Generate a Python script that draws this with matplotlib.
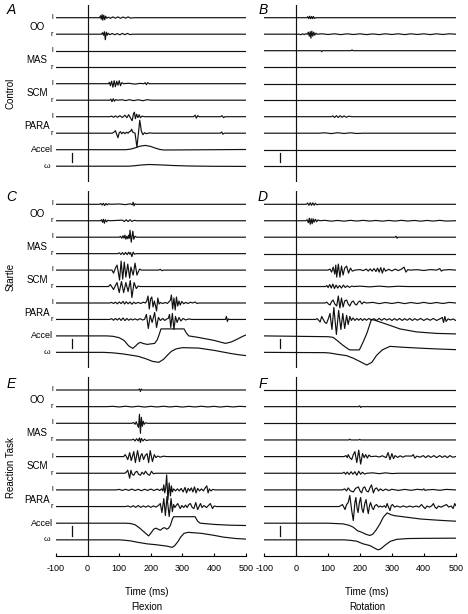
import matplotlib.pyplot as plt

plt.rcParams['font.family'] = ['Liberation Sans', 'DejaVu Sans']
plt.rcParams['axes.unicode_minus'] = False

# ---- traces: (time ms, amplitude) pairs ----
flat = [(-100, 0), (500, 0)]

# A  control / flexion
A_oo_l = [(-100, 0), (38, 0), (41, 2), (43, -1.5), (46, 3), (48, -2.5), (51, 2.5), (54, -2), (57, 1.5), (60, -0.5),
          (66, 0.5), (72, -0.6), (80, 0.8), (88, -0.5), (96, 0.8), (104, -0.6), (112, 0.7), (120, -0.5), (128, 0.8),
          (136, -0.4), (146, 0), (500, 0)]
A_oo_r = [(-100, 0), (44, 0), (47, 1.5), (50, -1), (53, 2.5), (56, -5.5), (59, 2), (62, -1), (65, 1), (70, -0.5),
          (78, 0.7), (86, -0.5), (94, 0.6), (102, -0.6), (110, 0.8), (118, -0.5), (126, 0.8), (134, -0.4), (142, 0), (500, 0)]
A_mas_l = flat
A_mas_r = flat
A_scm_l = [(-100, 0), (66, 0), (69, 1.5), (72, -2), (76, 2.5), (80, -3.5), (84, 3), (88, -3), (92, 2.5), (96, -1.5),
           (100, 3), (104, -2), (108, 1), (114, 0), (130, 0.4), (150, -0.4), (165, 0.3), (178, 0), (182, 1), (186, -1),
           (190, 1), (195, 0), (500, 0)]
A_scm_r = [(-100, 0), (70, 0), (74, 1), (77, -1.5), (81, 1.5), (85, -1), (89, 0.6), (94, 0), (110, 0.4), (120, -0.4),
           (132, 0.5), (145, -0.4), (160, 0.4), (175, -0.5), (188, 0.5), (200, 0), (500, 0)]
A_para_l = [(-100, 0), (70, 0), (76, 0.6), (82, -0.6), (88, 0.8), (95, -0.6), (102, 1), (110, -0.8), (118, 1.5),
            (124, -1), (130, 2), (136, -1.5), (141, -4), (145, 3), (148, 4.5), (151, -2), (155, 2.5), (159, -1),
            (163, 2), (167, -1), (172, 0.5), (180, 0), (335, 0), (340, 1.5), (344, -1.5), (348, 1), (353, 0),
            (420, 0), (425, 1), (430, -1), (434, 0), (500, 0)]
A_para_r = [(-100, 0), (78, 0), (83, 1), (88, 2.5), (93, -2), (96, -4.5), (100, 0.5), (104, 1.5), (108, -0.5), (113, 1),
            (118, -0.5), (123, 1), (128, 0), (132, 1.5), (136, 2), (139, 4), (143, 1), (150, 0), (156, -14), (165, 13),
            (170, 2), (175, -1.5), (180, 0.5), (186, -0.5), (195, 0.3), (205, 0), (420, 0), (424, 1.2), (428, -1),
            (432, 0), (500, 0)]
A_accel = [(-100, 0), (120, 0), (135, 0.5), (150, 1.8), (165, 3.5), (183, 4.3), (200, 3.2), (215, 1.5), (228, 0.3),
           (240, -0.3), (300, -0.2), (400, 0), (500, 0.2)]
A_omega = [(-100, 0), (130, 0), (150, 0.5), (170, 1.2), (195, 1.7), (230, 1.3), (270, 0.7), (320, 0.2), (400, -0.1),
           (500, -0.2)]

# B  control / rotation
B_oo_l = [(-100, 0), (33, 0), (36, 1), (39, -1), (42, 1.5), (45, -1), (48, 1.2), (51, -1), (54, 1.3), (57, -0.8),
          (61, 0), (500, 0)]
B_oo_r = [(-100, 0), (10, 0), (15, -0.5), (20, 0.4), (25, -0.4), (30, 0.5), (35, 0), (38, 2), (41, -2), (44, 2.5),
          (46, -4), (49, 3), (52, -2), (55, 2), (58, -1), (62, 1), (66, 0), (80, 0.4), (100, -0.3), (120, 0.4),
          (140, -0.4), (160, 0.4), (180, -0.3), (200, 0.4), (220, -0.4), (240, 0.3), (260, -0.4), (280, 0.4),
          (300, -0.3), (320, 0.4), (340, -0.4), (360, 0.4), (380, -0.3), (400, 0.4), (420, -0.4), (440, 0.4),
          (460, -0.3), (480, 0.4), (500, 0)]
B_mas_l = [(-100, 0), (78, 0), (80, -1), (82, 0), (172, 0), (175, 0.8), (178, 0), (500, 0)]
B_mas_r = flat
B_scm_l = flat
B_scm_r = flat
B_para_l = [(-100, 0), (110, 0), (115, 0.8), (120, -0.8), (126, 1), (132, -0.8), (138, 1), (144, -0.6), (150, 0.8),
            (157, -0.6), (165, 0.5), (175, 0), (500, 0)]
B_para_r = [(-100, 0), (70, 0), (90, 0.4), (110, -0.4), (130, 0.5), (150, -0.3), (170, 0.4), (190, -0.3), (210, 0),
            (500, 0)]
B_accel = flat
B_omega = flat

# C  startle / flexion
C_oo_l = [(-100, 0), (38, 0), (42, 0.8), (46, -0.8), (50, 1), (54, -1.2), (58, 0.8), (62, -0.6), (66, 0.5), (72, 0),
          (100, 0.3), (120, -0.3), (135, 0.5), (141, -0.5), (144, 2), (147, -1.5), (150, 0.5), (155, 0), (500, 0)]
C_oo_r = [(-100, 0), (40, 0), (44, 1), (47, -1.5), (50, 1.5), (53, -2.5), (56, 1), (60, -1), (64, 0.5), (70, 0),
          (110, 0.6), (116, -0.8), (122, 1), (128, -0.8), (134, 1), (140, -0.6), (148, 0.4), (155, 0), (500, 0)]
C_mas_l = [(-100, 0), (100, 0), (104, 0.8), (108, -1), (112, 1.5), (115, -1), (118, 2), (121, -2), (124, 1),
           (127, -1.5), (130, 2), (132, -1), (134, 7), (138, -5), (143, 6), (146, -2), (150, 1), (155, 0), (500, 0)]
C_mas_r = [(-100, 0), (95, 0), (100, 0.8), (105, -0.8), (110, 1), (115, -1), (120, 1.2), (125, -1), (130, 1.5),
           (133, -0.5), (136, 1), (140, -3), (144, 1.5), (148, -0.5), (155, 0), (500, 0)]
C_scm_l = [(-100, 0), (77, 0), (82, -3), (88, 2), (93, 5), (97, -2), (101, -10), (106, 9), (111, -9), (116, 8),
           (121, -7), (127, 6), (133, -8), (137, 3), (144, -5), (150, 7), (156, -5), (161, -1), (165, 1), (170, 0),
           (225, 0), (230, 0.8), (235, -0.6), (240, 0), (500, 0)]
C_scm_r = [(-100, 0), (66, 0), (72, 2), (82, -3), (88, 1), (93, 4), (100, -6), (107, 5), (114, -6), (121, 4),
           (128, -5), (135, 6), (140, -11), (147, 4), (154, -2), (160, 0.5), (166, 0), (500, 0)]
C_para_l = [(-100, 0), (70, 0), (76, 0.6), (82, -0.5), (88, 0.8), (94, -0.8), (100, 1), (106, -0.6), (112, 1.5),
            (117, -1), (122, 1.2), (128, -0.8), (134, 1), (140, -1.2), (146, 0.8), (152, -0.5), (160, 0.6),
            (168, -0.5), (176, 0.8), (183, 0), (187, 2), (191, 7), (195, -6), (199, 4), (203, 6), (207, -4), (211, 2),
            (215, -3), (218, -8), (222, 5), (226, -1), (230, 0.5), (238, -0.5), (246, 0.6), (252, -0.5), (257, 1),
            (262, 3), (265, 8), (269, -6), (273, 5), (277, -7), (281, 6), (285, -3), (289, 2), (293, -2), (298, 1.5),
            (304, -0.8), (310, 0.6), (318, -0.5), (325, 0.8), (332, 0), (340, 1), (346, -0.5), (352, 0), (500, 0)]
C_para_r = [(-100, 0), (70, 0), (76, 0.8), (82, -0.8), (88, 1), (94, -0.6), (100, 1.2), (106, -1), (112, 1.5),
            (118, -1.2), (124, 1), (130, -0.8), (136, 0.6), (142, -0.5), (150, 0.6), (158, -0.6), (166, 0.8),
            (174, -0.5), (180, 0), (186, 5), (192, -9), (198, 4), (204, -3), (212, 7), (218, -8), (224, 2),
            (230, -1), (238, 1), (244, -1), (250, 0.5), (255, 1), (259, 5), (263, -8), (268, 6), (273, -10), (278, 3),
            (283, -3), (289, 2), (295, -1.5), (302, 1), (310, -0.5), (320, 0.5), (330, 0), (436, 0), (439, 3),
            (442, -2), (445, 0.5), (448, 0), (500, 0)]
C_accel = [(-100, 0), (60, 0), (80, -0.4), (100, -1.8), (115, -4.5), (130, -10), (143, -12.5), (152, -10),
           (160, -7.5), (167, -6.5), (175, -7.5), (188, -8.5), (200, -8), (212, -7.5), (220, -4), (226, 1), (232, 7),
           (305, 7), (312, 3), (320, 0), (350, -1.5), (400, -4.5), (436, -7.5), (455, -6), (475, -3), (490, -0.5),
           (500, 0.8)]
C_omega = [(-100, 0), (50, 0), (80, -0.5), (110, -1.5), (135, -2.7), (160, -4), (185, -6.5), (205, -9), (225, -10),
           (240, -7), (255, -2), (265, 1), (280, 3.5), (300, 4.7), (350, 4.3), (400, 2), (450, -1), (480, -2.5),
           (500, -3.2)]

# D  startle / rotation
D_oo_l = [(-100, 0), (32, 0), (36, 1.2), (40, -1), (44, 1.5), (48, -1), (52, 1.5), (56, -1), (60, 1), (65, -0.5),
          (70, 0), (500, 0)]
D_oo_r = [(-100, 0), (30, 0), (34, 1), (38, -2), (41, 2.5), (44, -3.5), (47, 2), (50, -3), (53, 2), (56, -1.5),
          (60, 1.5), (64, -1), (68, 0.8), (74, 0), (90, 0.4), (110, -0.4), (130, 0.3), (150, -0.4), (170, 0.4),
          (190, -0.3), (210, 0.4), (230, -0.3), (250, 0.3), (270, -0.4), (290, 0.3), (310, -0.3), (330, 0.4),
          (350, -0.3), (370, 0.3), (390, -0.4), (410, 0.3), (430, -0.3), (450, 0.4), (470, -0.3), (500, 0)]
D_mas_l = [(-100, 0), (310, 0), (313, 1), (316, -1), (319, 0), (500, 0)]
D_mas_r = flat
D_scm_l = [(-100, 0), (100, 0), (106, 1), (111, -2), (116, 3), (121, -4), (124, 5), (127, -7), (132, 6), (137, -7),
           (142, 4), (147, -5), (152, 2), (158, 4), (164, -3), (170, 2), (176, -1), (184, 0), (200, 0.5), (210, -0.5),
           (220, 1), (226, -1), (232, 1.2), (238, -1), (244, 1.5), (250, -1.5), (255, 2), (260, -2), (265, 2.5),
           (270, -3), (275, 2), (280, -1), (290, 0.8), (300, -0.8), (310, 1), (320, -0.5), (330, 1), (338, 3),
           (344, -2), (350, 0.5), (356, 0), (380, 0.4), (400, -0.4), (420, 0.5), (440, 0), (450, 1.5), (455, -1),
           (460, 0), (480, 0.5), (500, 0)]
D_scm_r = [(-100, 0), (92, 0), (96, 1), (100, -1), (105, 2), (110, -1.5), (115, 2.5), (120, -2), (125, 1.5),
           (130, -1.5), (136, 1), (142, -1.5), (148, 1.5), (154, -1), (160, 0.8), (167, -0.8), (174, 0.5), (180, 0),
           (200, 0.4), (230, -0.3), (260, 0.4), (290, -0.3), (320, 0.3), (350, 0), (500, 0)]
D_para_l = [(-100, 0), (90, 0), (96, 0.8), (101, -1), (106, -2), (111, 1.5), (116, 3), (121, -1), (127, -3), (132, 7),
            (137, -5), (142, 5), (147, -4), (152, 2), (158, 3), (163, -1), (168, -3), (174, 1), (179, 2), (184, -1),
            (189, -2), (195, 1), (200, 2), (206, -1), (212, 1), (220, 0), (240, 0.6), (260, -0.6), (280, 0.5),
            (300, -0.5), (320, 0.6), (340, -0.6), (360, 0.5), (380, -0.5), (400, 0.6), (420, -0.5), (440, 0.5),
            (460, -0.5), (480, 0.6), (500, 0)]
D_para_r = [(-100, 0), (60, 0), (66, 0.8), (71, -1), (75, -2.5), (80, 3), (85, 0), (90, -3), (95, -4), (101, 1),
            (106, 6), (112, -10), (118, 12), (126, -15), (133, 9), (140, -10), (146, 6), (152, -9), (158, 4),
            (163, -5), (168, 3), (173, -1), (178, 1.5), (184, -1), (190, 1), (196, -0.8), (202, 1), (208, -1),
            (214, 0.8), (220, -0.8), (228, 1), (236, -0.8), (244, 0.8), (252, -1), (260, 1), (268, -0.8), (276, 1),
            (284, -0.6), (292, 0.8), (300, -1), (308, 0.8), (316, -0.8), (324, 1), (332, -1), (340, 0.8),
            (348, -0.8), (356, 1), (364, -1), (372, 0.8), (380, -0.8), (390, 1), (400, -1), (410, 0.8), (420, -0.8),
            (430, 1), (440, -1), (450, 0.5), (458, 2), (462, -3), (466, 3), (470, -2), (476, 0.5), (484, -0.5),
            (492, 0.5), (500, -1)]
D_accel = [(-100, 0), (100, -0.8), (116, -1.5), (130, -5), (145, -9), (160, -12.5), (168, -14), (198, -14),
           (210, -6), (222, 3), (236, 16.7), (262, 14), (294, 10.5), (325, 7), (377, 4), (440, 2.5), (500, 2)]
D_omega = [(-100, 0), (90, -0.3), (106, -0.7), (130, -2), (158, -3.3), (180, -6), (205, -10), (221, -12.7),
           (237, -10), (252, -3), (270, 2.5), (294, 6), (340, 5), (400, 4), (450, 3.3), (500, 2.7)]

# E  reaction task / flexion
E_oo_l = [(-100, 0), (160, 0), (164, 1), (167, -1.5), (170, 1), (173, 0), (500, 0)]
E_oo_r = [(-100, 0), (60, 0), (80, 0.3), (100, -0.3), (120, 0.4), (140, -0.3), (160, 0.4), (180, -0.4), (200, 0.3),
          (220, -0.3), (240, 0.4), (260, -0.3), (280, 0.3), (300, -0.4), (320, 0.3), (340, -0.3), (360, 0.4),
          (380, -0.3), (400, 0.3), (420, -0.4), (440, 0.3), (460, -0.3), (480, 0.3), (500, 0)]
E_mas_l = [(-100, 0), (140, 0), (146, 0.8), (150, -1), (154, 1.5), (158, -2), (161, -4), (164, 9), (167, -10),
           (170, 6), (173, -3), (176, 2), (179, -1), (183, 0.5), (190, 0), (500, 0)]
E_mas_r = [(-100, 0), (140, 0), (145, 0.8), (150, -1), (155, 1.2), (160, -1), (164, 2), (167, -2.5), (170, 1.5),
           (175, -1), (180, 0.8), (186, -0.6), (193, 0), (500, 0)]
E_scm_l = [(-100, 0), (114, 0), (119, 2), (124, -1), (127, -3), (133, 4), (138, -4), (146, 5), (151, -6), (158, 6),
           (164, -5), (168, 1), (172, 3), (177, -3), (182, 1), (188, 3), (193, -6), (198, 6), (205, -5), (211, 2),
           (216, -1), (222, 0.5), (230, -0.5), (240, 0.4), (251, 0), (500, 0)]
E_scm_r = [(-100, 0), (118, 0), (122, 1), (127, 3), (133, -5), (137, 3), (141, -1), (146, -2), (151, 1), (156, 2),
           (161, -1), (167, -2), (172, 1), (178, -1), (183, 2), (190, -1), (196, -2), (202, 2), (208, -0.5), (215, 0),
           (500, 0)]
E_para_l = [(-100, 0), (90, 0), (100, 0.5), (110, -0.5), (120, 0.6), (130, -0.5), (140, 0.8), (150, -0.6), (160, 0.6),
            (170, -0.8), (180, 0.6), (190, -0.5), (200, 0.8), (210, -0.6), (220, 0.8), (228, -0.6), (234, 1),
            (238, -1), (241, 5), (244, -3), (247, 2), (250, 15), (254, -10), (258, 7), (262, -6), (265, 4), (268, -2),
            (272, 1), (278, -1), (284, 1), (290, -1), (296, 1.5), (302, -2), (308, 2.5), (313, -3), (318, 1.5),
            (323, -1), (328, 2), (333, -2), (338, 3), (343, -3), (348, 1.5), (354, -1), (360, 1), (366, -1), (372, 2),
            (377, 4), (381, -3), (385, 1), (390, -1), (396, 0.5), (403, 0), (500, 0)]
E_para_r = [(-100, 0), (120, 0), (128, 0.6), (136, -0.6), (144, 0.8), (152, -0.8), (160, 1), (168, -0.8), (176, 0.6),
            (184, -0.6), (192, 0.8), (200, -0.8), (208, 0.6), (216, -0.5), (224, 1), (230, 3), (235, -6), (241, 8),
            (246, -9), (251, 10), (258, -10), (264, 8), (268, -5), (272, 2), (276, -1), (280, 1), (285, 3), (290, 0),
            (293, -2), (298, 1), (304, -1), (310, 1.5), (315, -1), (320, 2), (325, 3), (331, -1), (336, -2), (342, 4),
            (348, -3), (357, 3), (362, -1), (368, 1), (376, -1), (382, 1), (388, 3), (395, -2), (400, 0.5), (408, 0),
            (500, 0)]
E_accel = [(-100, 0), (120, 0), (135, -0.3), (150, -1.5), (165, -5), (183, -10), (193, -12.7), (200, -10), (209, -6),
           (216, -5), (223, -6), (230, -7), (238, -5), (244, -4.5), (250, -6), (256, -5), (262, -2), (268, 4),
           (272, 6.5), (340, 6.5), (348, 2), (356, 0), (400, -1.2), (450, -2), (500, -2.3)]
E_omega = [(-100, 0), (100, 0), (114, -0.3), (135, -1), (156, -2.3), (188, -4), (220, -5), (251, -6.3), (267, -7.5),
           (275, -6), (285, -2), (295, 3), (305, 6.5), (318, 7.5), (360, 6.5), (400, 4.5), (430, 2.7), (470, 1.3),
           (500, 0.8)]

# F  reaction task / rotation
F_oo_l = flat
F_oo_r = [(-100, 0), (196, 0), (199, 0.8), (202, -0.8), (205, 0), (500, 0)]
F_mas_l = flat
F_mas_r = [(-100, 0), (165, 0), (168, 0.8), (171, 0), (196, 0), (199, 0.6), (202, 0), (500, 0)]
F_scm_l = [(-100, 0), (150, 0), (156, 1), (160, -1), (163, 2), (168, -1), (174, -3), (179, 2), (184, 5), (190, -6),
           (196, 6.5), (202, -7.5), (208, 3), (213, -1), (218, 2), (223, -1.5), (228, 1.5), (234, 0), (250, 0.4),
           (260, -0.4), (270, 0.8), (282, -1), (288, 4), (294, -3), (300, 3), (305, -2), (310, 1), (318, -0.8),
           (326, 0.8), (334, -0.6), (342, 0.6), (362, 0.5), (367, 2), (372, -1.5), (378, 0.5), (388, -0.6),
           (398, 1), (406, -1), (414, 1), (422, -0.8), (432, 1), (440, -1), (450, 1), (458, -0.8), (466, 0.8),
           (474, -1), (482, 1), (490, -0.6), (500, 0)]
F_scm_r = [(-100, 0), (145, 0), (150, 1), (155, -1), (160, 1.2), (166, -1.2), (172, 1.5), (178, -1), (184, 1.5),
           (190, -2), (196, 2), (202, -1), (208, 1), (214, -0.8), (221, 0), (240, 0.4), (260, -0.4), (280, 0.4),
           (300, -0.3), (320, 0), (500, 0)]
F_para_l = [(-100, 0), (145, 0), (152, 1), (158, -1), (163, 2), (170, -1), (179, -2), (186, 1.5), (195, 3), (200, -1),
            (205, -3), (210, 2), (215, 3), (220, -1), (226, -2), (231, 2), (236, 5), (242, -3), (247, 1), (252, 2),
            (258, -1), (264, 1), (272, -0.8), (280, 0.8), (290, -0.6), (300, 0.6), (320, -0.5), (340, 0.5),
            (360, -0.4), (380, 0.6), (396, 0), (400, 1), (404, -0.5), (410, 0), (430, 0.4), (450, -0.4), (470, 0.5),
            (500, 0)]
F_para_r = [(-100, 0), (135, 0), (140, 1), (145, 2), (150, -1), (153, -3), (158, 2), (163, 4), (168, 11), (174, -4),
            (179, -14), (184, 4), (187, 9), (191, -2), (194, -6), (198, 4), (202, 9), (206, -2), (210, -6), (215, 3),
            (219, 7), (223, -2), (226, -7), (230, 1), (233, 4), (238, -1), (242, -3), (247, 1), (252, 2),
            (258, -0.5), (264, 0.5), (270, -0.5), (276, 0.8), (281, -1), (285, 3), (290, -1), (294, -4), (298, 1),
            (302, 2), (308, -0.5), (316, 0.5), (326, -0.6), (336, 0.6), (346, -0.6), (356, 0.5), (366, -0.5),
            (376, 0.5), (385, -0.5), (393, 2), (399, -0.5), (404, -2), (410, 0.5), (418, -0.6), (425, 0.8), (430, 3),
            (435, -0.5), (440, -2), (446, 0.5), (454, -0.6), (462, 0.6), (471, 2), (478, -0.5), (486, 0.5),
            (492, -2), (497, 3), (500, 1)]
F_accel = [(-100, 0), (100, 0), (147, -0.7), (165, -2), (179, -4), (192, -7.5), (205, -9), (218, -11), (231, -12.3),
           (240, -11), (250, -7), (262, -1), (273, 6), (285, 10.3), (297, 8.5), (309, 7.5), (346, 6), (390, 4.2),
           (430, 3.3), (470, 2.5), (500, 2)]
F_omega = [(-100, 0), (150, 0), (170, -0.5), (189, -1.3), (210, -4), (231, -5.7), (250, -9), (257, -10), (265, -9),
           (280, -5), (295, -1.5), (315, 0.5), (350, 1.3), (400, 1.5), (500, 1.7)]

muscles = ["OO", "MAS", "SCM", "PARA"]
sides = ["l", "r"]
row_names = ["Control", "Startle", "Reaction Task"]
col_names = ["Flexion", "Rotation"]
xticks = [-100, 0, 100, 200, 300, 400, 500]

panels = {
    "A": [A_oo_l, A_oo_r, A_mas_l, A_mas_r, A_scm_l, A_scm_r, A_para_l, A_para_r, A_accel, A_omega],
    "B": [B_oo_l, B_oo_r, B_mas_l, B_mas_r, B_scm_l, B_scm_r, B_para_l, B_para_r, B_accel, B_omega],
    "C": [C_oo_l, C_oo_r, C_mas_l, C_mas_r, C_scm_l, C_scm_r, C_para_l, C_para_r, C_accel, C_omega],
    "D": [D_oo_l, D_oo_r, D_mas_l, D_mas_r, D_scm_l, D_scm_r, D_para_l, D_para_r, D_accel, D_omega],
    "E": [E_oo_l, E_oo_r, E_mas_l, E_mas_r, E_scm_l, E_scm_r, E_para_l, E_para_r, E_accel, E_omega],
    "F": [F_oo_l, F_oo_r, F_mas_l, F_mas_r, F_scm_l, F_scm_r, F_para_l, F_para_r, F_accel, F_omega],
}
layout = [["A", "B"], ["C", "D"], ["E", "F"]]

# ---- layout in pixels of the 468x614 image ----
W, H = 468, 614
col_x = [(56.0, 245.7), (264.3, 455.7)]
row_first = [17.7, 204.3, 390.0]
row_step = [16.5, 16.45, 16.65]
letter_y = [10, 197, 384]
row_label_y = [93, 277, 468]

fig = plt.figure(figsize=(W / 100, H / 100), dpi=100)
lc = "#111111"

for r in range(3):
    S = row_step[r]
    top = row_first[r] - 13
    height = 9 * S + 29
    for c in range(2):
        name = layout[r][c]
        x0, x1 = col_x[c]
        ax = fig.add_axes([x0 / W, 1 - (top + height) / H, (x1 - x0) / W, height / H])
        ax.set_xlim(-100, 500)
        ax.set_ylim(-(9 * S + 16), 13)
        for sp in ax.spines.values():
            sp.set_visible(False)
        ax.set_yticks([])
        ax.axvline(0, color=lc, lw=0.85)

        for i, tr in enumerate(panels[name]):
            t = [p[0] for p in tr]
            v = [p[1] - i * S for p in tr]
            ax.plot(t, v, color=lc, lw=0.85, solid_joinstyle="round")

        # calibration bar between Accel and omega
        acc = -8 * S
        ax.plot([-50, -50], [acc - 3, acc - 12.5], color=lc, lw=0.9)

        if c == 0:
            for k, m in enumerate(muscles):
                y_l = -(2 * k) * S
                y_r = -(2 * k + 1) * S
                ax.text(-108, y_l + 0.5, sides[0], ha="right", va="center", fontsize=5.5, clip_on=False)
                ax.text(-108, y_r, sides[1], ha="right", va="center", fontsize=5.5, clip_on=False)
                ax.text(-160, (y_l + y_r) / 2 - 1.5, m, ha="center", va="center", fontsize=7, clip_on=False)
            ax.text(-109, -8 * S, "Accel", ha="right", va="center", fontsize=6.5, clip_on=False)
            ax.text(-118, -9 * S, "ω", ha="right", va="center", fontsize=6, clip_on=False)

        if r == 2:
            ax.spines["bottom"].set_visible(True)
            ax.spines["bottom"].set_linewidth(0.8)
            ax.set_xticks(xticks)
            ax.tick_params(axis="x", direction="in", length=2.5, width=0.8, labelsize=6.5, pad=6)
        else:
            ax.set_xticks([])

        fig.text((11 if c == 0 else 263) / W, 1 - letter_y[r] / H, name, fontsize=10, style="italic",
                 ha="center", va="center")

    fig.text(11 / W, 1 - row_label_y[r] / H, row_names[r], rotation=90, fontsize=7, ha="center", va="center")

for c, (xc, lab) in enumerate(zip([147, 367], col_names)):
    fig.text(xc / W, 1 - 592 / H, "Time (ms)", fontsize=7, ha="center", va="center")
    fig.text(xc / W, 1 - 607 / H, lab, fontsize=7, ha="center", va="center")

fig.savefig("out.png", dpi=100)
